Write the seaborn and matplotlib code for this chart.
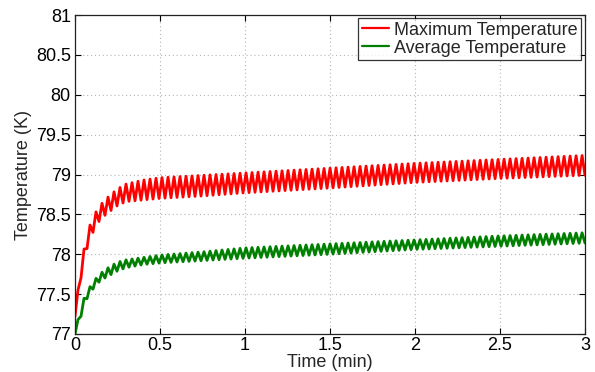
import numpy as np
import pandas as pd
import matplotlib
matplotlib.use("Agg")
import matplotlib.pyplot as plt
import seaborn as sns

# Envelope of the temperature oscillation (min, K)
t_env = [0.0, 0.035, 0.06, 0.09, 0.12, 0.15, 0.20, 0.25, 0.30, 0.40, 0.50,
         0.75, 1.00, 1.50, 2.00, 2.50, 3.00]
max_hi = [77.25, 77.85, 78.15, 78.38, 78.52, 78.62, 78.73, 78.82, 78.88, 78.93, 78.96,
          78.99, 79.02, 79.08, 79.14, 79.19, 79.24]
max_lo = [77.22, 77.70, 78.00, 78.20, 78.34, 78.44, 78.53, 78.61, 78.66, 78.68, 78.70,
          78.73, 78.77, 78.83, 78.90, 78.95, 78.99]
avg_hi = [77.02, 77.34, 77.49, 77.60, 77.69, 77.76, 77.84, 77.90, 77.93, 77.96, 77.99,
          78.03, 78.08, 78.13, 78.18, 78.23, 78.27]
avg_lo = [77.00, 77.22, 77.40, 77.52, 77.60, 77.67, 77.73, 77.79, 77.83, 77.87, 77.89,
          77.92, 77.95, 78.00, 78.06, 78.10, 78.14]
half_period = 0.01765  # min, half of one heating cycle

series_names = ["Maximum Temperature", "Average Temperature"]
x_ticks = [0, 0.5, 1, 1.5, 2, 2.5, 3]
x_tick_labels = ["0", "0.5", "1", "1.5", "2", "2.5", "3"]
y_ticks = [77, 77.5, 78, 78.5, 79, 79.5, 80, 80.5, 81]
y_tick_labels = ["77", "77.5", "78", "78.5", "79", "79.5", "80", "80.5", "81"]

# Alternate trough / peak at every half cycle
t_pts = np.append(np.arange(0, 3.0, half_period), 3.0)
odd = (np.arange(len(t_pts)) % 2 == 1)

def cycle_series(hi, lo):
    h = np.interp(t_pts, t_env, hi)
    l = np.interp(t_pts, t_env, lo)
    return np.where(odd, h, l)

df = pd.concat([
    pd.DataFrame({"Time": t_pts, "Temp": cycle_series(max_hi, max_lo), "Series": series_names[0]}),
    pd.DataFrame({"Time": t_pts, "Temp": cycle_series(avg_hi, avg_lo), "Series": series_names[1]}),
])

sns.set_theme(style="white")
plt.rcParams["font.family"] = ["Liberation Sans", "DejaVu Sans"]
FS = 13

fig = plt.figure(figsize=(5.95, 3.72), dpi=100)
ax = fig.add_axes([75 / 595, 38 / 372, 510 / 595, 319 / 372])

sns.lineplot(data=df, x="Time", y="Temp", hue="Series", hue_order=series_names,
             palette=["#ff0000", "#008000"], linewidth=2.0, ax=ax, sort=False)

ax.set_xlim(0, 3)
ax.set_ylim(77, 81)
ax.set_xticks(x_ticks)
ax.set_xticklabels(x_tick_labels)
ax.set_yticks(y_ticks)
ax.set_yticklabels(y_tick_labels)
ax.tick_params(direction="in", length=4, width=0.8, labelsize=FS, colors="black",
               top=True, right=True, bottom=True, left=True)
ax.tick_params(axis="x", pad=2)
ax.tick_params(axis="y", pad=3)
ax.grid(True, linestyle=(0, (1, 2.5)), color="#b5b5b5", linewidth=0.8)
for s in ax.spines.values():
    s.set_visible(True)
    s.set_color("#222222")
    s.set_linewidth(0.9)

ax.set_xlabel("Time (min)", fontsize=FS, labelpad=0)
ax.set_ylabel("Temperature (K)", fontsize=FS, labelpad=3)

leg = ax.legend(loc="upper right", bbox_to_anchor=(0.993, 0.99), fontsize=FS,
                frameon=True, fancybox=False, borderaxespad=0, handlelength=1.5,
                handletextpad=0.3, labelspacing=0.05, borderpad=0.2)
leg.get_frame().set_edgecolor("black")
leg.get_frame().set_linewidth(0.9)
for line in leg.get_lines():
    line.set_linewidth(1.6)

fig.savefig("out.png", dpi=100, facecolor="white")
